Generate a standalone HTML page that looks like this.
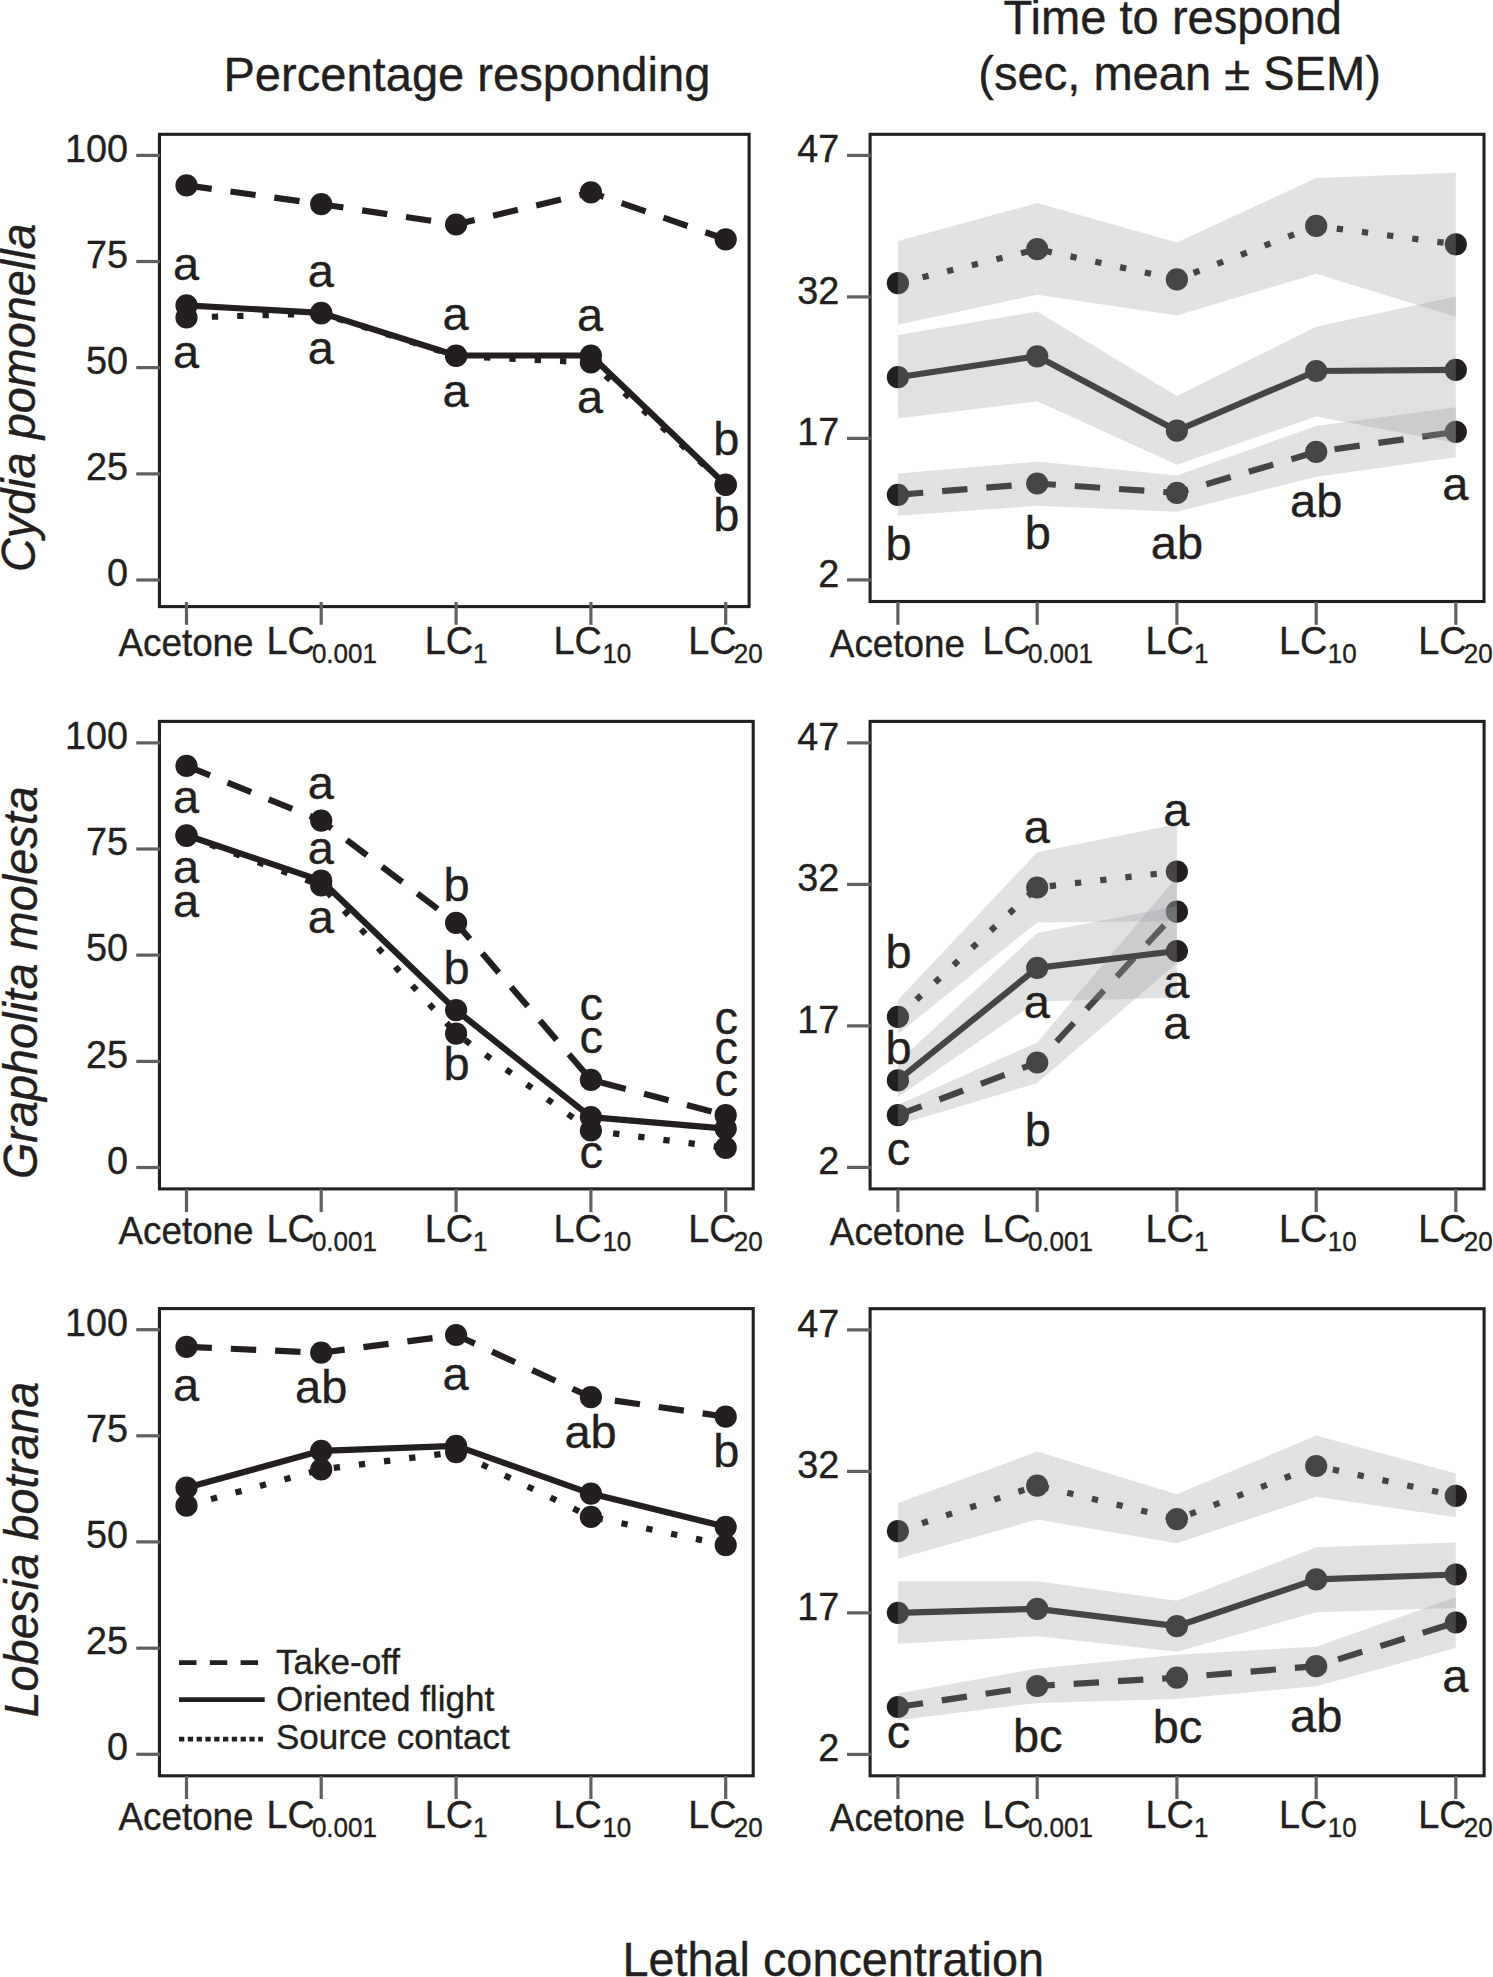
<!DOCTYPE html>
<html lang="en">
<head>
<meta charset="utf-8">
<title>Percentage responding and time to respond by lethal concentration</title>
<style>
html,body{margin:0;padding:0;background:#ffffff;}
body{width:1493px;height:1977px;overflow:hidden;}
svg{display:block;font-family:"Liberation Sans",Arial,Helvetica,sans-serif;fill:#231f20;}
text{stroke:#231f20;stroke-width:0.35px;stroke-linejoin:round;}
</style>
</head>
<body>
<svg width="1493" height="1977" viewBox="0 0 1493 1977">
<rect x="0" y="0" width="1493" height="1977" fill="#ffffff"/>
<g id="TL">
<g class="series dashed">
<polyline points="186.50,185.40 321.20,204.20 456.10,224.50 590.90,192.40 725.70,239.30" fill="none" stroke="#231f20" stroke-width="6.2" stroke-linejoin="round" stroke-dasharray="25.4 18.95"/>
<circle cx="186.50" cy="185.40" r="11.1" fill="#231f20"/>
<circle cx="321.20" cy="204.20" r="11.1" fill="#231f20"/>
<circle cx="456.10" cy="224.50" r="11.1" fill="#231f20"/>
<circle cx="590.90" cy="192.40" r="11.1" fill="#231f20"/>
<circle cx="725.70" cy="239.30" r="11.1" fill="#231f20"/>
</g>
<g class="series solid">
<polyline points="186.50,305.40 321.20,312.90 456.10,355.50 590.90,355.50 725.70,484.70" fill="none" stroke="#231f20" stroke-width="6.2" stroke-linejoin="round"/>
<circle cx="186.50" cy="305.40" r="11.1" fill="#231f20"/>
<circle cx="321.20" cy="312.90" r="11.1" fill="#231f20"/>
<circle cx="456.10" cy="355.50" r="11.1" fill="#231f20"/>
<circle cx="590.90" cy="355.50" r="11.1" fill="#231f20"/>
<circle cx="725.70" cy="484.70" r="11.1" fill="#231f20"/>
</g>
<g class="series dotted">
<polyline points="186.50,317.50 321.20,313.50 456.10,356.00 590.90,362.50 725.70,485.00" fill="none" stroke="#231f20" stroke-width="6.2" stroke-linejoin="round" stroke-dasharray="6.3 19.05"/>
<circle cx="186.50" cy="317.50" r="11.1" fill="#231f20"/>
<circle cx="321.20" cy="313.50" r="11.1" fill="#231f20"/>
<circle cx="456.10" cy="356.00" r="11.1" fill="#231f20"/>
<circle cx="590.90" cy="362.50" r="11.1" fill="#231f20"/>
<circle cx="725.70" cy="485.00" r="11.1" fill="#231f20"/>
</g>
<rect x="159.45" y="134.30" width="589.65" height="472.30" fill="none" stroke="#231f20" stroke-width="3.1"/>
<line x1="136.25" y1="155.40" x2="160.05" y2="155.40" stroke="#5f6062" stroke-width="3.2"/>
<line x1="136.25" y1="261.50" x2="160.05" y2="261.50" stroke="#5f6062" stroke-width="3.2"/>
<line x1="136.25" y1="367.60" x2="160.05" y2="367.60" stroke="#5f6062" stroke-width="3.2"/>
<line x1="136.25" y1="473.90" x2="160.05" y2="473.90" stroke="#5f6062" stroke-width="3.2"/>
<line x1="136.25" y1="580.00" x2="160.05" y2="580.00" stroke="#5f6062" stroke-width="3.2"/>
<line x1="186.50" y1="602.00" x2="186.50" y2="624.80" stroke="#5f6062" stroke-width="3.2"/>
<line x1="321.20" y1="602.00" x2="321.20" y2="624.80" stroke="#5f6062" stroke-width="3.2"/>
<line x1="456.10" y1="602.00" x2="456.10" y2="624.80" stroke="#5f6062" stroke-width="3.2"/>
<line x1="590.90" y1="602.00" x2="590.90" y2="624.80" stroke="#5f6062" stroke-width="3.2"/>
<line x1="725.70" y1="602.00" x2="725.70" y2="624.80" stroke="#5f6062" stroke-width="3.2"/>
<text transform="translate(128.00 161.50) scale(1.0 1.04)" font-size="37.8" text-anchor="end" >100</text>
<text transform="translate(128.00 267.60) scale(1.0 1.04)" font-size="37.8" text-anchor="end" >75</text>
<text transform="translate(128.00 373.70) scale(1.0 1.04)" font-size="37.8" text-anchor="end" >50</text>
<text transform="translate(128.00 480.00) scale(1.0 1.04)" font-size="37.8" text-anchor="end" >25</text>
<text transform="translate(128.00 586.10) scale(1.0 1.04)" font-size="37.8" text-anchor="end" >0</text>
<text transform="translate(186.00 656.10) scale(0.975 1.05)" font-size="37.8" text-anchor="middle" >Acetone</text>
<text transform="translate(266.50 654.20) scale(1.0 1.04)" font-size="37.8" text-anchor="start" >LC</text>
<text transform="translate(311.90 662.80) scale(1.0 1.04)" font-size="26.0" text-anchor="start" >0.001</text>
<text transform="translate(424.70 654.20) scale(1.0 1.04)" font-size="37.8" text-anchor="start" >LC</text>
<text transform="translate(473.10 662.80) scale(1.0 1.04)" font-size="26.0" text-anchor="start" >1</text>
<text transform="translate(553.60 654.20) scale(1.0 1.04)" font-size="37.8" text-anchor="start" >LC</text>
<text transform="translate(602.40 662.80) scale(1.0 1.04)" font-size="26.0" text-anchor="start" >10</text>
<text transform="translate(688.20 654.20) scale(1.0 1.04)" font-size="37.8" text-anchor="start" >LC</text>
<text transform="translate(733.70 662.80) scale(1.0 1.04)" font-size="26.0" text-anchor="start" >20</text>
<text transform="translate(186.00 279.50) scale(1.0 0.99)" font-size="47.0" text-anchor="middle" >a</text>
<text transform="translate(186.00 367.70) scale(1.0 0.99)" font-size="47.0" text-anchor="middle" >a</text>
<text transform="translate(320.70 287.30) scale(1.0 0.99)" font-size="47.0" text-anchor="middle" >a</text>
<text transform="translate(320.70 364.10) scale(1.0 0.99)" font-size="47.0" text-anchor="middle" >a</text>
<text transform="translate(455.50 330.20) scale(1.0 0.99)" font-size="47.0" text-anchor="middle" >a</text>
<text transform="translate(455.50 406.50) scale(1.0 0.99)" font-size="47.0" text-anchor="middle" >a</text>
<text transform="translate(590.10 330.60) scale(1.0 0.99)" font-size="47.0" text-anchor="middle" >a</text>
<text transform="translate(590.10 413.10) scale(1.0 0.99)" font-size="47.0" text-anchor="middle" >a</text>
<text transform="translate(726.30 454.60) scale(1.0 0.99)" font-size="47.0" text-anchor="middle" >b</text>
<text transform="translate(726.30 530.70) scale(1.0 0.99)" font-size="47.0" text-anchor="middle" >b</text>
</g>
<g id="ML">
<g class="series dashed">
<polyline points="186.50,765.90 321.20,820.60 456.10,922.90 590.90,1079.90 725.70,1115.20" fill="none" stroke="#231f20" stroke-width="6.2" stroke-linejoin="round" stroke-dasharray="25.4 18.95"/>
<circle cx="186.50" cy="765.90" r="11.1" fill="#231f20"/>
<circle cx="321.20" cy="820.60" r="11.1" fill="#231f20"/>
<circle cx="456.10" cy="922.90" r="11.1" fill="#231f20"/>
<circle cx="590.90" cy="1079.90" r="11.1" fill="#231f20"/>
<circle cx="725.70" cy="1115.20" r="11.1" fill="#231f20"/>
</g>
<g class="series solid">
<polyline points="186.50,835.30 321.20,880.60 456.10,1010.20 590.90,1117.10 725.70,1128.60" fill="none" stroke="#231f20" stroke-width="6.2" stroke-linejoin="round"/>
<circle cx="186.50" cy="835.30" r="11.1" fill="#231f20"/>
<circle cx="321.20" cy="880.60" r="11.1" fill="#231f20"/>
<circle cx="456.10" cy="1010.20" r="11.1" fill="#231f20"/>
<circle cx="590.90" cy="1117.10" r="11.1" fill="#231f20"/>
<circle cx="725.70" cy="1128.60" r="11.1" fill="#231f20"/>
</g>
<g class="series dotted">
<polyline points="186.50,835.80 321.20,885.40 456.10,1033.60 590.90,1130.50 725.70,1147.90" fill="none" stroke="#231f20" stroke-width="6.2" stroke-linejoin="round" stroke-dasharray="6.3 19.05"/>
<circle cx="186.50" cy="835.80" r="11.1" fill="#231f20"/>
<circle cx="321.20" cy="885.40" r="11.1" fill="#231f20"/>
<circle cx="456.10" cy="1033.60" r="11.1" fill="#231f20"/>
<circle cx="590.90" cy="1130.50" r="11.1" fill="#231f20"/>
<circle cx="725.70" cy="1147.90" r="11.1" fill="#231f20"/>
</g>
<rect x="159.45" y="721.40" width="593.75" height="467.50" fill="none" stroke="#231f20" stroke-width="3.1"/>
<line x1="136.25" y1="742.90" x2="160.05" y2="742.90" stroke="#5f6062" stroke-width="3.2"/>
<line x1="136.25" y1="849.00" x2="160.05" y2="849.00" stroke="#5f6062" stroke-width="3.2"/>
<line x1="136.25" y1="955.10" x2="160.05" y2="955.10" stroke="#5f6062" stroke-width="3.2"/>
<line x1="136.25" y1="1061.40" x2="160.05" y2="1061.40" stroke="#5f6062" stroke-width="3.2"/>
<line x1="136.25" y1="1167.50" x2="160.05" y2="1167.50" stroke="#5f6062" stroke-width="3.2"/>
<line x1="186.50" y1="1189.00" x2="186.50" y2="1212.10" stroke="#5f6062" stroke-width="3.2"/>
<line x1="321.20" y1="1189.00" x2="321.20" y2="1212.10" stroke="#5f6062" stroke-width="3.2"/>
<line x1="456.10" y1="1189.00" x2="456.10" y2="1212.10" stroke="#5f6062" stroke-width="3.2"/>
<line x1="590.90" y1="1189.00" x2="590.90" y2="1212.10" stroke="#5f6062" stroke-width="3.2"/>
<line x1="725.70" y1="1189.00" x2="725.70" y2="1212.10" stroke="#5f6062" stroke-width="3.2"/>
<text transform="translate(128.00 749.00) scale(1.0 1.04)" font-size="37.8" text-anchor="end" >100</text>
<text transform="translate(128.00 855.10) scale(1.0 1.04)" font-size="37.8" text-anchor="end" >75</text>
<text transform="translate(128.00 961.20) scale(1.0 1.04)" font-size="37.8" text-anchor="end" >50</text>
<text transform="translate(128.00 1067.50) scale(1.0 1.04)" font-size="37.8" text-anchor="end" >25</text>
<text transform="translate(128.00 1173.60) scale(1.0 1.04)" font-size="37.8" text-anchor="end" >0</text>
<text transform="translate(186.00 1244.00) scale(0.975 1.05)" font-size="37.8" text-anchor="middle" >Acetone</text>
<text transform="translate(266.50 1242.10) scale(1.0 1.04)" font-size="37.8" text-anchor="start" >LC</text>
<text transform="translate(311.90 1250.70) scale(1.0 1.04)" font-size="26.0" text-anchor="start" >0.001</text>
<text transform="translate(424.70 1242.10) scale(1.0 1.04)" font-size="37.8" text-anchor="start" >LC</text>
<text transform="translate(473.10 1250.70) scale(1.0 1.04)" font-size="26.0" text-anchor="start" >1</text>
<text transform="translate(553.60 1242.10) scale(1.0 1.04)" font-size="37.8" text-anchor="start" >LC</text>
<text transform="translate(602.40 1250.70) scale(1.0 1.04)" font-size="26.0" text-anchor="start" >10</text>
<text transform="translate(688.20 1242.10) scale(1.0 1.04)" font-size="37.8" text-anchor="start" >LC</text>
<text transform="translate(733.70 1250.70) scale(1.0 1.04)" font-size="26.0" text-anchor="start" >20</text>
<text transform="translate(186.00 812.80) scale(1.0 0.99)" font-size="47.0" text-anchor="middle" >a</text>
<text transform="translate(186.00 882.50) scale(1.0 0.99)" font-size="47.0" text-anchor="middle" >a</text>
<text transform="translate(186.00 916.80) scale(1.0 0.99)" font-size="47.0" text-anchor="middle" >a</text>
<text transform="translate(320.70 799.00) scale(1.0 0.99)" font-size="47.0" text-anchor="middle" >a</text>
<text transform="translate(320.70 863.50) scale(1.0 0.99)" font-size="47.0" text-anchor="middle" >a</text>
<text transform="translate(320.70 933.00) scale(1.0 0.99)" font-size="47.0" text-anchor="middle" >a</text>
<text transform="translate(456.60 901.10) scale(1.0 0.99)" font-size="47.0" text-anchor="middle" >b</text>
<text transform="translate(456.60 984.20) scale(1.0 0.99)" font-size="47.0" text-anchor="middle" >b</text>
<text transform="translate(456.60 1080.20) scale(1.0 0.99)" font-size="47.0" text-anchor="middle" >b</text>
<text transform="translate(591.20 1020.40) scale(1.0 0.99)" font-size="47.0" text-anchor="middle" >c</text>
<text transform="translate(591.20 1053.30) scale(1.0 0.99)" font-size="47.0" text-anchor="middle" >c</text>
<text transform="translate(591.20 1168.20) scale(1.0 0.99)" font-size="47.0" text-anchor="middle" >c</text>
<text transform="translate(726.30 1033.70) scale(1.0 0.99)" font-size="47.0" text-anchor="middle" >c</text>
<text transform="translate(726.30 1064.20) scale(1.0 0.99)" font-size="47.0" text-anchor="middle" >c</text>
<text transform="translate(726.30 1095.60) scale(1.0 0.99)" font-size="47.0" text-anchor="middle" >c</text>
</g>
<g id="BL">
<g class="series dashed">
<polyline points="186.50,1346.80 321.20,1352.70 456.10,1335.00 590.90,1397.20 725.70,1416.70" fill="none" stroke="#231f20" stroke-width="6.2" stroke-linejoin="round" stroke-dasharray="25.4 18.95"/>
<circle cx="186.50" cy="1346.80" r="11.1" fill="#231f20"/>
<circle cx="321.20" cy="1352.70" r="11.1" fill="#231f20"/>
<circle cx="456.10" cy="1335.00" r="11.1" fill="#231f20"/>
<circle cx="590.90" cy="1397.20" r="11.1" fill="#231f20"/>
<circle cx="725.70" cy="1416.70" r="11.1" fill="#231f20"/>
</g>
<g class="series solid">
<polyline points="186.50,1487.70 321.20,1450.80 456.10,1445.90 590.90,1493.60 725.70,1526.80" fill="none" stroke="#231f20" stroke-width="6.2" stroke-linejoin="round"/>
<circle cx="186.50" cy="1487.70" r="11.1" fill="#231f20"/>
<circle cx="321.20" cy="1450.80" r="11.1" fill="#231f20"/>
<circle cx="456.10" cy="1445.90" r="11.1" fill="#231f20"/>
<circle cx="590.90" cy="1493.60" r="11.1" fill="#231f20"/>
<circle cx="725.70" cy="1526.80" r="11.1" fill="#231f20"/>
</g>
<g class="series dotted">
<polyline points="186.50,1505.70 321.20,1469.50 456.10,1452.10 590.90,1516.90 725.70,1545.10" fill="none" stroke="#231f20" stroke-width="6.2" stroke-linejoin="round" stroke-dasharray="6.3 19.05"/>
<circle cx="186.50" cy="1505.70" r="11.1" fill="#231f20"/>
<circle cx="321.20" cy="1469.50" r="11.1" fill="#231f20"/>
<circle cx="456.10" cy="1452.10" r="11.1" fill="#231f20"/>
<circle cx="590.90" cy="1516.90" r="11.1" fill="#231f20"/>
<circle cx="725.70" cy="1545.10" r="11.1" fill="#231f20"/>
</g>
<rect x="159.45" y="1308.60" width="593.75" height="467.20" fill="none" stroke="#231f20" stroke-width="3.1"/>
<line x1="136.25" y1="1329.70" x2="160.05" y2="1329.70" stroke="#5f6062" stroke-width="3.2"/>
<line x1="136.25" y1="1435.80" x2="160.05" y2="1435.80" stroke="#5f6062" stroke-width="3.2"/>
<line x1="136.25" y1="1541.90" x2="160.05" y2="1541.90" stroke="#5f6062" stroke-width="3.2"/>
<line x1="136.25" y1="1648.20" x2="160.05" y2="1648.20" stroke="#5f6062" stroke-width="3.2"/>
<line x1="136.25" y1="1754.30" x2="160.05" y2="1754.30" stroke="#5f6062" stroke-width="3.2"/>
<line x1="186.50" y1="1776.00" x2="186.50" y2="1799.00" stroke="#5f6062" stroke-width="3.2"/>
<line x1="321.20" y1="1776.00" x2="321.20" y2="1799.00" stroke="#5f6062" stroke-width="3.2"/>
<line x1="456.10" y1="1776.00" x2="456.10" y2="1799.00" stroke="#5f6062" stroke-width="3.2"/>
<line x1="590.90" y1="1776.00" x2="590.90" y2="1799.00" stroke="#5f6062" stroke-width="3.2"/>
<line x1="725.70" y1="1776.00" x2="725.70" y2="1799.00" stroke="#5f6062" stroke-width="3.2"/>
<text transform="translate(128.00 1335.80) scale(1.0 1.04)" font-size="37.8" text-anchor="end" >100</text>
<text transform="translate(128.00 1441.90) scale(1.0 1.04)" font-size="37.8" text-anchor="end" >75</text>
<text transform="translate(128.00 1548.00) scale(1.0 1.04)" font-size="37.8" text-anchor="end" >50</text>
<text transform="translate(128.00 1654.30) scale(1.0 1.04)" font-size="37.8" text-anchor="end" >25</text>
<text transform="translate(128.00 1760.40) scale(1.0 1.04)" font-size="37.8" text-anchor="end" >0</text>
<text transform="translate(186.00 1830.20) scale(0.975 1.05)" font-size="37.8" text-anchor="middle" >Acetone</text>
<text transform="translate(266.50 1828.30) scale(1.0 1.04)" font-size="37.8" text-anchor="start" >LC</text>
<text transform="translate(311.90 1836.90) scale(1.0 1.04)" font-size="26.0" text-anchor="start" >0.001</text>
<text transform="translate(424.70 1828.30) scale(1.0 1.04)" font-size="37.8" text-anchor="start" >LC</text>
<text transform="translate(473.10 1836.90) scale(1.0 1.04)" font-size="26.0" text-anchor="start" >1</text>
<text transform="translate(553.60 1828.30) scale(1.0 1.04)" font-size="37.8" text-anchor="start" >LC</text>
<text transform="translate(602.40 1836.90) scale(1.0 1.04)" font-size="26.0" text-anchor="start" >10</text>
<text transform="translate(688.20 1828.30) scale(1.0 1.04)" font-size="37.8" text-anchor="start" >LC</text>
<text transform="translate(733.70 1836.90) scale(1.0 1.04)" font-size="26.0" text-anchor="start" >20</text>
<text transform="translate(186.00 1400.80) scale(1.0 0.99)" font-size="47.0" text-anchor="middle" >a</text>
<text transform="translate(321.20 1402.70) scale(1.0 0.99)" font-size="47.0" text-anchor="middle" >ab</text>
<text transform="translate(455.50 1389.90) scale(1.0 0.99)" font-size="47.0" text-anchor="middle" >a</text>
<text transform="translate(590.60 1447.50) scale(1.0 0.99)" font-size="47.0" text-anchor="middle" >ab</text>
<text transform="translate(726.30 1467.00) scale(1.0 0.99)" font-size="47.0" text-anchor="middle" >b</text>
</g>
<g id="TR">
<g class="series dashed">
<polyline points="897.90,494.80 1037.20,483.50 1176.90,492.90 1316.20,451.90 1455.80,431.80" fill="none" stroke="#231f20" stroke-width="6.2" stroke-linejoin="round" stroke-dasharray="25.4 18.95"/>
<circle cx="897.90" cy="494.80" r="11.1" fill="#231f20"/>
<circle cx="1037.20" cy="483.50" r="11.1" fill="#231f20"/>
<circle cx="1176.90" cy="492.90" r="11.1" fill="#231f20"/>
<circle cx="1316.20" cy="451.90" r="11.1" fill="#231f20"/>
<circle cx="1455.80" cy="431.80" r="11.1" fill="#231f20"/>
<polygon points="897.90,473.60 1037.20,461.60 1176.90,475.50 1316.20,425.90 1455.80,407.20 1455.80,457.30 1316.20,476.80 1176.90,511.70 1037.20,505.80 897.90,515.70" fill="#999b9e" fill-opacity="0.3"/>
</g>
<g class="series solid">
<polyline points="897.90,377.20 1037.20,356.30 1176.90,430.70 1316.20,371.00 1455.80,369.90" fill="none" stroke="#231f20" stroke-width="6.2" stroke-linejoin="round"/>
<circle cx="897.90" cy="377.20" r="11.1" fill="#231f20"/>
<circle cx="1037.20" cy="356.30" r="11.1" fill="#231f20"/>
<circle cx="1176.90" cy="430.70" r="11.1" fill="#231f20"/>
<circle cx="1316.20" cy="371.00" r="11.1" fill="#231f20"/>
<circle cx="1455.80" cy="369.90" r="11.1" fill="#231f20"/>
<polygon points="897.90,334.90 1037.20,311.60 1176.90,395.90 1316.20,326.80 1455.80,296.60 1455.80,443.00 1316.20,416.50 1176.90,464.80 1037.20,401.30 897.90,418.40" fill="#999b9e" fill-opacity="0.3"/>
</g>
<g class="series dotted">
<polyline points="897.90,283.20 1037.20,249.20 1176.90,279.40 1316.20,225.90 1455.80,244.30" fill="none" stroke="#231f20" stroke-width="6.2" stroke-linejoin="round" stroke-dasharray="6.3 19.05"/>
<circle cx="897.90" cy="283.20" r="11.1" fill="#231f20"/>
<circle cx="1037.20" cy="249.20" r="11.1" fill="#231f20"/>
<circle cx="1176.90" cy="279.40" r="11.1" fill="#231f20"/>
<circle cx="1316.20" cy="225.90" r="11.1" fill="#231f20"/>
<circle cx="1455.80" cy="244.30" r="11.1" fill="#231f20"/>
<polygon points="897.90,241.10 1037.20,203.10 1176.90,242.50 1316.20,177.90 1455.80,172.80 1455.80,316.70 1316.20,273.80 1176.90,315.60 1037.20,294.70 897.90,324.70" fill="#999b9e" fill-opacity="0.3"/>
</g>
<rect x="870.10" y="134.30" width="613.90" height="467.20" fill="none" stroke="#231f20" stroke-width="3.1"/>
<line x1="847.00" y1="155.40" x2="870.70" y2="155.40" stroke="#5f6062" stroke-width="3.2"/>
<line x1="847.00" y1="296.90" x2="870.70" y2="296.90" stroke="#5f6062" stroke-width="3.2"/>
<line x1="847.00" y1="438.40" x2="870.70" y2="438.40" stroke="#5f6062" stroke-width="3.2"/>
<line x1="847.00" y1="579.90" x2="870.70" y2="579.90" stroke="#5f6062" stroke-width="3.2"/>
<line x1="897.90" y1="602.00" x2="897.90" y2="624.80" stroke="#5f6062" stroke-width="3.2"/>
<line x1="1037.20" y1="602.00" x2="1037.20" y2="624.80" stroke="#5f6062" stroke-width="3.2"/>
<line x1="1176.90" y1="602.00" x2="1176.90" y2="624.80" stroke="#5f6062" stroke-width="3.2"/>
<line x1="1316.20" y1="602.00" x2="1316.20" y2="624.80" stroke="#5f6062" stroke-width="3.2"/>
<line x1="1455.80" y1="602.00" x2="1455.80" y2="624.80" stroke="#5f6062" stroke-width="3.2"/>
<text transform="translate(839.20 162.20) scale(1.0 1.04)" font-size="37.8" text-anchor="end" >47</text>
<text transform="translate(839.20 303.70) scale(1.0 1.04)" font-size="37.8" text-anchor="end" >32</text>
<text transform="translate(839.20 445.20) scale(1.0 1.04)" font-size="37.8" text-anchor="end" >17</text>
<text transform="translate(839.20 586.70) scale(1.0 1.04)" font-size="37.8" text-anchor="end" >2</text>
<text transform="translate(897.40 657.10) scale(0.975 1.05)" font-size="37.8" text-anchor="middle" >Acetone</text>
<text transform="translate(982.50 654.20) scale(1.0 1.04)" font-size="37.8" text-anchor="start" >LC</text>
<text transform="translate(1027.90 662.80) scale(1.0 1.04)" font-size="26.0" text-anchor="start" >0.001</text>
<text transform="translate(1145.50 654.20) scale(1.0 1.04)" font-size="37.8" text-anchor="start" >LC</text>
<text transform="translate(1193.90 662.80) scale(1.0 1.04)" font-size="26.0" text-anchor="start" >1</text>
<text transform="translate(1278.90 654.20) scale(1.0 1.04)" font-size="37.8" text-anchor="start" >LC</text>
<text transform="translate(1327.70 662.80) scale(1.0 1.04)" font-size="26.0" text-anchor="start" >10</text>
<text transform="translate(1418.30 654.20) scale(1.0 1.04)" font-size="37.8" text-anchor="start" >LC</text>
<text transform="translate(1463.80 662.80) scale(1.0 1.04)" font-size="26.0" text-anchor="start" >20</text>
<text transform="translate(898.50 559.90) scale(1.0 0.99)" font-size="47.0" text-anchor="middle" >b</text>
<text transform="translate(1037.80 548.60) scale(1.0 0.99)" font-size="47.0" text-anchor="middle" >b</text>
<text transform="translate(1176.90 558.80) scale(1.0 0.99)" font-size="47.0" text-anchor="middle" >ab</text>
<text transform="translate(1316.20 516.50) scale(1.0 0.99)" font-size="47.0" text-anchor="middle" >ab</text>
<text transform="translate(1455.30 500.40) scale(1.0 0.99)" font-size="47.0" text-anchor="middle" >a</text>
</g>
<g id="MR">
<g class="series dashed">
<polyline points="897.90,1115.20 1037.20,1062.50 1176.90,911.70" fill="none" stroke="#231f20" stroke-width="6.2" stroke-linejoin="round" stroke-dasharray="25.4 18.95"/>
<circle cx="897.90" cy="1115.20" r="11.1" fill="#231f20"/>
<circle cx="1037.20" cy="1062.50" r="11.1" fill="#231f20"/>
<circle cx="1176.90" cy="911.70" r="11.1" fill="#231f20"/>
<polygon points="897.90,1105.00 1037.20,1042.40 1176.90,876.80 1176.90,963.00 1037.20,1083.10 897.90,1125.00" fill="#999b9e" fill-opacity="0.3"/>
</g>
<g class="series solid">
<polyline points="897.90,1080.40 1037.20,967.90 1176.90,951.00" fill="none" stroke="#231f20" stroke-width="6.2" stroke-linejoin="round"/>
<circle cx="897.90" cy="1080.40" r="11.1" fill="#231f20"/>
<circle cx="1037.20" cy="967.90" r="11.1" fill="#231f20"/>
<circle cx="1176.90" cy="951.00" r="11.1" fill="#231f20"/>
<polygon points="897.90,1062.00 1037.20,933.00 1176.90,906.30 1176.90,997.40 1037.20,1001.40 897.90,1097.00" fill="#999b9e" fill-opacity="0.3"/>
</g>
<g class="series dotted">
<polyline points="897.90,1016.90 1037.20,887.50 1176.90,871.50" fill="none" stroke="#231f20" stroke-width="6.2" stroke-linejoin="round" stroke-dasharray="6.3 19.05"/>
<circle cx="897.90" cy="1016.90" r="11.1" fill="#231f20"/>
<circle cx="1037.20" cy="887.50" r="11.1" fill="#231f20"/>
<circle cx="1176.90" cy="871.50" r="11.1" fill="#231f20"/>
<polygon points="897.90,1000.00 1037.20,852.20 1176.90,824.20 1176.90,921.00 1037.20,922.40 897.90,1034.00" fill="#999b9e" fill-opacity="0.3"/>
</g>
<rect x="870.10" y="721.40" width="614.00" height="467.50" fill="none" stroke="#231f20" stroke-width="3.1"/>
<line x1="847.00" y1="742.90" x2="870.70" y2="742.90" stroke="#5f6062" stroke-width="3.2"/>
<line x1="847.00" y1="884.40" x2="870.70" y2="884.40" stroke="#5f6062" stroke-width="3.2"/>
<line x1="847.00" y1="1025.90" x2="870.70" y2="1025.90" stroke="#5f6062" stroke-width="3.2"/>
<line x1="847.00" y1="1167.40" x2="870.70" y2="1167.40" stroke="#5f6062" stroke-width="3.2"/>
<line x1="897.90" y1="1189.00" x2="897.90" y2="1212.10" stroke="#5f6062" stroke-width="3.2"/>
<line x1="1037.20" y1="1189.00" x2="1037.20" y2="1212.10" stroke="#5f6062" stroke-width="3.2"/>
<line x1="1176.90" y1="1189.00" x2="1176.90" y2="1212.10" stroke="#5f6062" stroke-width="3.2"/>
<line x1="1316.20" y1="1189.00" x2="1316.20" y2="1212.10" stroke="#5f6062" stroke-width="3.2"/>
<line x1="1455.80" y1="1189.00" x2="1455.80" y2="1212.10" stroke="#5f6062" stroke-width="3.2"/>
<text transform="translate(839.20 749.70) scale(1.0 1.04)" font-size="37.8" text-anchor="end" >47</text>
<text transform="translate(839.20 891.20) scale(1.0 1.04)" font-size="37.8" text-anchor="end" >32</text>
<text transform="translate(839.20 1032.70) scale(1.0 1.04)" font-size="37.8" text-anchor="end" >17</text>
<text transform="translate(839.20 1174.20) scale(1.0 1.04)" font-size="37.8" text-anchor="end" >2</text>
<text transform="translate(897.40 1245.00) scale(0.975 1.05)" font-size="37.8" text-anchor="middle" >Acetone</text>
<text transform="translate(982.50 1242.10) scale(1.0 1.04)" font-size="37.8" text-anchor="start" >LC</text>
<text transform="translate(1027.90 1250.70) scale(1.0 1.04)" font-size="26.0" text-anchor="start" >0.001</text>
<text transform="translate(1145.50 1242.10) scale(1.0 1.04)" font-size="37.8" text-anchor="start" >LC</text>
<text transform="translate(1193.90 1250.70) scale(1.0 1.04)" font-size="26.0" text-anchor="start" >1</text>
<text transform="translate(1278.90 1242.10) scale(1.0 1.04)" font-size="37.8" text-anchor="start" >LC</text>
<text transform="translate(1327.70 1250.70) scale(1.0 1.04)" font-size="26.0" text-anchor="start" >10</text>
<text transform="translate(1418.30 1242.10) scale(1.0 1.04)" font-size="37.8" text-anchor="start" >LC</text>
<text transform="translate(1463.80 1250.70) scale(1.0 1.04)" font-size="26.0" text-anchor="start" >20</text>
<text transform="translate(898.50 968.10) scale(1.0 0.99)" font-size="47.0" text-anchor="middle" >b</text>
<text transform="translate(898.50 1063.80) scale(1.0 0.99)" font-size="47.0" text-anchor="middle" >b</text>
<text transform="translate(898.50 1165.20) scale(1.0 0.99)" font-size="47.0" text-anchor="middle" >c</text>
<text transform="translate(1036.70 843.00) scale(1.0 0.99)" font-size="47.0" text-anchor="middle" >a</text>
<text transform="translate(1036.70 1018.20) scale(1.0 0.99)" font-size="47.0" text-anchor="middle" >a</text>
<text transform="translate(1037.80 1146.20) scale(1.0 0.99)" font-size="47.0" text-anchor="middle" >b</text>
<text transform="translate(1176.40 826.10) scale(1.0 0.99)" font-size="47.0" text-anchor="middle" >a</text>
<text transform="translate(1176.40 998.10) scale(1.0 0.99)" font-size="47.0" text-anchor="middle" >a</text>
<text transform="translate(1176.40 1038.60) scale(1.0 0.99)" font-size="47.0" text-anchor="middle" >a</text>
</g>
<g id="BR">
<g class="series dashed">
<polyline points="897.90,1707.00 1037.20,1686.00 1176.90,1677.70 1316.20,1666.20 1455.80,1622.50" fill="none" stroke="#231f20" stroke-width="6.2" stroke-linejoin="round" stroke-dasharray="25.4 18.95"/>
<circle cx="897.90" cy="1707.00" r="11.1" fill="#231f20"/>
<circle cx="1037.20" cy="1686.00" r="11.1" fill="#231f20"/>
<circle cx="1176.90" cy="1677.70" r="11.1" fill="#231f20"/>
<circle cx="1316.20" cy="1666.20" r="11.1" fill="#231f20"/>
<circle cx="1455.80" cy="1622.50" r="11.1" fill="#231f20"/>
<polygon points="897.90,1693.50 1037.20,1668.60 1176.90,1654.70 1316.20,1646.70 1455.80,1597.30 1455.80,1648.00 1316.20,1686.30 1176.90,1698.90 1037.20,1702.90 897.90,1720.30" fill="#999b9e" fill-opacity="0.3"/>
</g>
<g class="series solid">
<polyline points="897.90,1612.80 1037.20,1608.80 1176.90,1626.20 1316.20,1579.40 1455.80,1574.50" fill="none" stroke="#231f20" stroke-width="6.2" stroke-linejoin="round"/>
<circle cx="897.90" cy="1612.80" r="11.1" fill="#231f20"/>
<circle cx="1037.20" cy="1608.80" r="11.1" fill="#231f20"/>
<circle cx="1176.90" cy="1626.20" r="11.1" fill="#231f20"/>
<circle cx="1316.20" cy="1579.40" r="11.1" fill="#231f20"/>
<circle cx="1455.80" cy="1574.50" r="11.1" fill="#231f20"/>
<polygon points="897.90,1581.20 1037.20,1581.20 1176.90,1600.80 1316.20,1547.20 1455.80,1542.60 1455.80,1608.00 1316.20,1612.30 1176.90,1651.70 1037.20,1636.20 897.90,1643.70" fill="#999b9e" fill-opacity="0.3"/>
</g>
<g class="series dotted">
<polyline points="897.90,1531.10 1037.20,1485.60 1176.90,1519.10 1316.20,1466.00 1455.80,1495.80" fill="none" stroke="#231f20" stroke-width="6.2" stroke-linejoin="round" stroke-dasharray="6.3 19.05"/>
<circle cx="897.90" cy="1531.10" r="11.1" fill="#231f20"/>
<circle cx="1037.20" cy="1485.60" r="11.1" fill="#231f20"/>
<circle cx="1176.90" cy="1519.10" r="11.1" fill="#231f20"/>
<circle cx="1316.20" cy="1466.00" r="11.1" fill="#231f20"/>
<circle cx="1455.80" cy="1495.80" r="11.1" fill="#231f20"/>
<polygon points="897.90,1503.00 1037.20,1451.60 1176.90,1494.20 1316.20,1435.50 1455.80,1473.50 1455.80,1517.20 1316.20,1496.80 1176.90,1543.20 1037.20,1519.60 897.90,1558.70" fill="#999b9e" fill-opacity="0.3"/>
</g>
<rect x="870.10" y="1308.70" width="614.00" height="467.10" fill="none" stroke="#231f20" stroke-width="3.1"/>
<line x1="847.00" y1="1329.90" x2="870.70" y2="1329.90" stroke="#5f6062" stroke-width="3.2"/>
<line x1="847.00" y1="1471.40" x2="870.70" y2="1471.40" stroke="#5f6062" stroke-width="3.2"/>
<line x1="847.00" y1="1612.90" x2="870.70" y2="1612.90" stroke="#5f6062" stroke-width="3.2"/>
<line x1="847.00" y1="1754.40" x2="870.70" y2="1754.40" stroke="#5f6062" stroke-width="3.2"/>
<line x1="897.90" y1="1776.00" x2="897.90" y2="1799.00" stroke="#5f6062" stroke-width="3.2"/>
<line x1="1037.20" y1="1776.00" x2="1037.20" y2="1799.00" stroke="#5f6062" stroke-width="3.2"/>
<line x1="1176.90" y1="1776.00" x2="1176.90" y2="1799.00" stroke="#5f6062" stroke-width="3.2"/>
<line x1="1316.20" y1="1776.00" x2="1316.20" y2="1799.00" stroke="#5f6062" stroke-width="3.2"/>
<line x1="1455.80" y1="1776.00" x2="1455.80" y2="1799.00" stroke="#5f6062" stroke-width="3.2"/>
<text transform="translate(839.20 1336.70) scale(1.0 1.04)" font-size="37.8" text-anchor="end" >47</text>
<text transform="translate(839.20 1478.20) scale(1.0 1.04)" font-size="37.8" text-anchor="end" >32</text>
<text transform="translate(839.20 1619.70) scale(1.0 1.04)" font-size="37.8" text-anchor="end" >17</text>
<text transform="translate(839.20 1761.20) scale(1.0 1.04)" font-size="37.8" text-anchor="end" >2</text>
<text transform="translate(897.40 1831.20) scale(0.975 1.05)" font-size="37.8" text-anchor="middle" >Acetone</text>
<text transform="translate(982.50 1828.30) scale(1.0 1.04)" font-size="37.8" text-anchor="start" >LC</text>
<text transform="translate(1027.90 1836.90) scale(1.0 1.04)" font-size="26.0" text-anchor="start" >0.001</text>
<text transform="translate(1145.50 1828.30) scale(1.0 1.04)" font-size="37.8" text-anchor="start" >LC</text>
<text transform="translate(1193.90 1836.90) scale(1.0 1.04)" font-size="26.0" text-anchor="start" >1</text>
<text transform="translate(1278.90 1828.30) scale(1.0 1.04)" font-size="37.8" text-anchor="start" >LC</text>
<text transform="translate(1327.70 1836.90) scale(1.0 1.04)" font-size="26.0" text-anchor="start" >10</text>
<text transform="translate(1418.30 1828.30) scale(1.0 1.04)" font-size="37.8" text-anchor="start" >LC</text>
<text transform="translate(1463.80 1836.90) scale(1.0 1.04)" font-size="26.0" text-anchor="start" >20</text>
<text transform="translate(898.50 1748.00) scale(1.0 0.99)" font-size="47.0" text-anchor="middle" >c</text>
<text transform="translate(1037.80 1752.00) scale(1.0 0.99)" font-size="47.0" text-anchor="middle" >bc</text>
<text transform="translate(1177.50 1743.10) scale(1.0 0.99)" font-size="47.0" text-anchor="middle" >bc</text>
<text transform="translate(1316.20 1731.70) scale(1.0 0.99)" font-size="47.0" text-anchor="middle" >ab</text>
<text transform="translate(1455.30 1692.10) scale(1.0 0.99)" font-size="47.0" text-anchor="middle" >a</text>
</g>
<text transform="translate(466.90 90.50) scale(1.0 1.012)" font-size="47.1" text-anchor="middle" >Percentage responding</text>
<text transform="translate(1172.80 33.60) scale(1.0 1.012)" font-size="47.1" text-anchor="middle" >Time to respond</text>
<text transform="translate(1179.60 90.40) scale(1.0 1.012)" font-size="47.1" text-anchor="middle" >(sec, mean ± SEM)</text>
<text transform="translate(833.20 1975.80) scale(1.0 1.012)" font-size="46.8" text-anchor="middle" >Lethal concentration</text>
<text transform="translate(34.60 397.70) rotate(-90) scale(1.0 1.012)" font-size="46.8" text-anchor="middle"  font-style="italic">Cydia pomonella</text>
<text transform="translate(37.20 982.70) rotate(-90) scale(1.0 1.012)" font-size="46.8" text-anchor="middle"  font-style="italic">Grapholita molesta</text>
<text transform="translate(37.70 1549.60) rotate(-90) scale(1.0 1.012)" font-size="46.8" text-anchor="middle"  font-style="italic">Lobesia botrana</text>
<line x1="179" y1="1662.7" x2="259.0" y2="1662.7" stroke="#231f20" stroke-width="4.8" stroke-dasharray="17.5 13.3"/>
<text transform="translate(276.00 1674.00) scale(1.0 1.012)" font-size="35.05" text-anchor="start" >Take-off</text>
<line x1="179" y1="1699.7" x2="264.7" y2="1699.7" stroke="#231f20" stroke-width="4.8"/>
<text transform="translate(276.00 1711.00) scale(1.0 1.012)" font-size="35.05" text-anchor="start" >Oriented flight</text>
<line x1="179" y1="1739.1" x2="262.9" y2="1739.1" stroke="#231f20" stroke-width="4.8" stroke-dasharray="5.3 3.5"/>
<text transform="translate(276.00 1748.50) scale(1.0 1.012)" font-size="35.05" text-anchor="start" >Source contact</text>
</svg>
</body>
</html>
